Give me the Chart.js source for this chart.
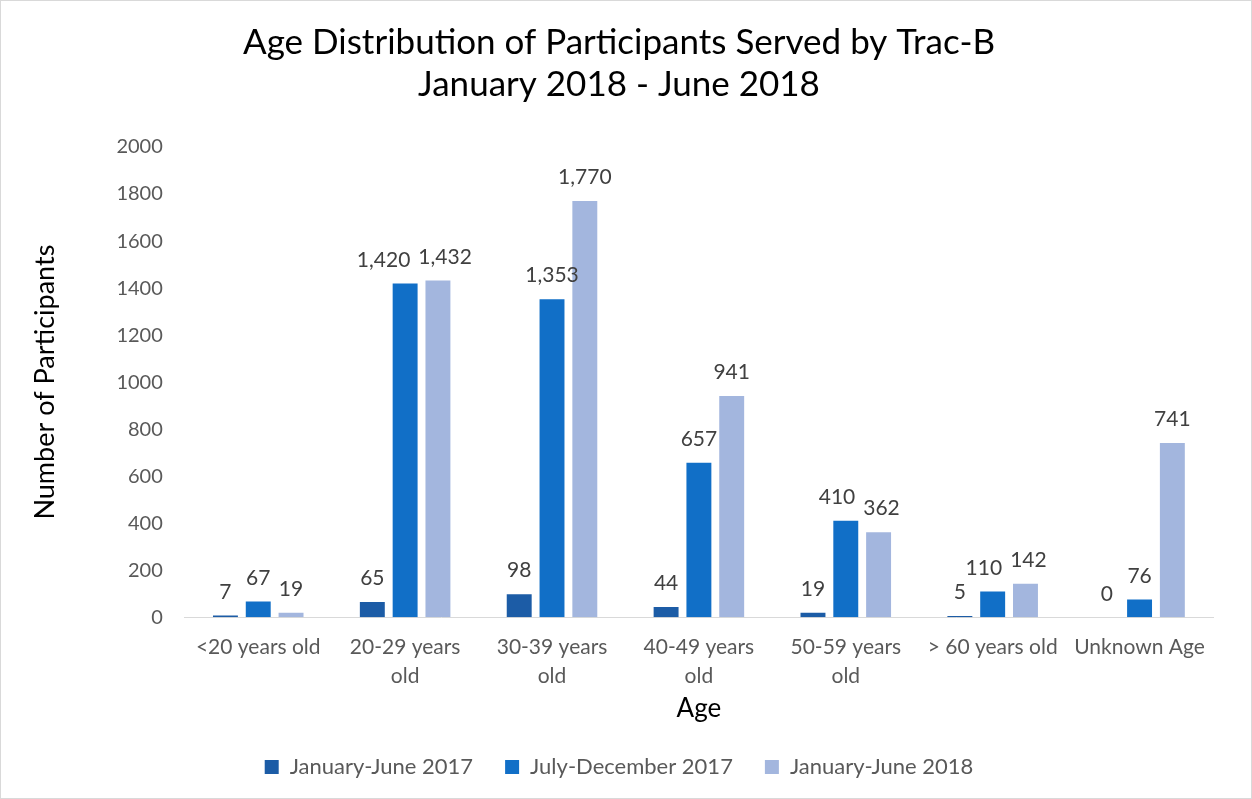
<!DOCTYPE html>
<html>
<head>
<meta charset="utf-8">
<script src="https://cdn.jsdelivr.net/npm/chart.js@4"></script>
<style>
  html, body { margin: 0; padding: 0; background: #fff; }
  #wrap { position: absolute; left: 0; top: 0; width: 1250px; height: 797px; border: 1px solid #d9d9d9; }
</style>
</head>
<body>
<div id="wrap"><canvas id="ageChart" width="1250" height="797"></canvas></div>
<script>
const ageGroups = [
    '<20 years old',
    ['20-29 years', 'old'],
    ['30-39 years', 'old'],
    ['40-49 years', 'old'],
    ['50-59 years', 'old'],
    '> 60 years old',
    'Unknown Age'
];
const janJun2017 = [7, 65, 98, 44, 19, 5, 0];
const julDec2017 = [67, 1420, 1353, 657, 410, 110, 76];
const janJun2018 = [19, 1432, 1770, 941, 362, 142, 741];
const seriesNames = ['January-June 2017', 'July-December 2017', 'January-June 2018'];

const fontFamily = 'Lato, "Open Sans", sans-serif';

// draws the number above each bar, nudging neighbours apart when they collide
const barLabels = {
    id: 'barLabels',
    afterDatasetsDraw(chart) {
        const ctx = chart.ctx;
        ctx.save();
        ctx.font = '21px ' + fontFamily;
        ctx.fillStyle = '#404040';
        ctx.textAlign = 'center';
        ctx.textBaseline = 'bottom';
        const n = chart.data.labels.length;
        for (let j = 0; j < n; j++) {
            const items = chart.data.datasets.map((ds, i) => {
                const bar = chart.getDatasetMeta(i).data[j];
                const text = ds.data[j].toLocaleString('en-US');
                return { text, x: bar.x, y: bar.y - 13, w: ctx.measureText(text).width };
            });
            for (let k = 0; k < items.length - 1; k++) {
                const a = items[k], b = items[k + 1];
                if (Math.abs(a.y - b.y) > 22) continue;
                const overlap = (a.x + a.w / 2 + 8) - (b.x - b.w / 2);
                if (overlap > 0) {
                    a.x -= overlap * 0.75;
                    b.x += overlap * 0.25;
                }
            }
            items.forEach(it => ctx.fillText(it.text, it.x, it.y));
        }
        ctx.restore();
    }
};

new Chart(document.getElementById('ageChart'), {
    type: 'bar',
    data: {
        labels: ageGroups,
        datasets: [
            { label: seriesNames[0], data: janJun2017, backgroundColor: '#1c5ca6' },
            { label: seriesNames[1], data: julDec2017, backgroundColor: '#116fc7' },
            { label: seriesNames[2], data: janJun2018, backgroundColor: '#a3b6de' }
        ]
    },
    options: {
        responsive: false,
        animation: false,
        layout: { padding: { left: 24, right: 38, top: 15, bottom: 10 } },
        datasets: { bar: { categoryPercentage: 0.67, barPercentage: 0.76 } },
        plugins: {
            title: {
                display: true,
                text: ['Age Distribution of Participants Served by Trac-B', 'January 2018 - June 2018'],
                font: { family: fontFamily, size: 35, weight: 'normal', lineHeight: 1.2 },
                color: '#000',
                padding: { top: 6, bottom: 41 }
            },
            legend: {
                position: 'bottom',
                labels: {
                    font: { family: fontFamily, size: 22 },
                    color: '#595959',
                    boxWidth: 14,
                    boxHeight: 14,
                    padding: 32
                }
            },
            tooltip: { enabled: false }
        },
        scales: {
            x: {
                grid: { display: false, drawTicks: false },
                border: { color: '#d9d9d9' },
                ticks: { font: { family: fontFamily, size: 21, lineHeight: 1.37 }, color: '#595959', padding: 16, maxRotation: 0 },
                title: { display: true, text: 'Age', font: { family: fontFamily, size: 26 }, color: '#000', padding: { top: -14, bottom: 0 } }
            },
            y: {
                min: 0,
                max: 2000,
                grid: { display: false, drawTicks: false },
                border: { display: false },
                ticks: { stepSize: 200, font: { family: fontFamily, size: 20 }, color: '#595959', padding: 22, callback: v => String(v) },
                title: { display: true, text: 'Number of Participants', font: { family: fontFamily, size: 27 }, color: '#000', padding: { bottom: 33 } }
            }
        }
    },
    plugins: [barLabels]
});
</script>
</body>
</html>
